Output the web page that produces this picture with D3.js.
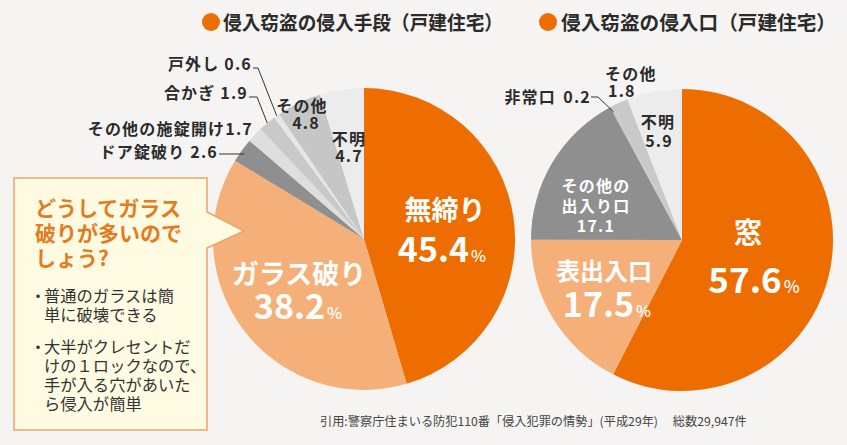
<!DOCTYPE html>
<html><head><meta charset="utf-8">
<script src="https://cdn.jsdelivr.net/npm/d3@7/dist/d3.min.js"></script>
<style>
html,body{margin:0;padding:0;background:#f5f4f2;}
svg{display:block;font-family:"Noto Sans CJK JP","Noto Sans",sans-serif;}
</style></head>
<body>
<svg id="c" width="847" height="445"></svg>
<script>
// ---- data ----
const methodCats = ["無締り","ガラス破り","ドア錠破り","その他の施錠開け","合かぎ","戸外し","その他","不明"];
const methodVals = [45.4,38.2,2.6,1.7,1.9,0.6,4.8,4.7];
const entryCats = ["窓","表出入口","その他の出入り口","非常口","その他","不明"];
const entryVals = [57.6,17.5,17.1,0.2,1.8,5.9];
const titles = ["侵入窃盗の侵入手段（戸建住宅）","侵入窃盗の侵入口（戸建住宅）"];
const calloutTitle = ["どうしてガラス","破りが多いので","しょう?"];
const calloutBullets = [["普通のガラスは簡","単に破壊できる"],["大半がクレセントだ","けの１ロックなので、","手が入る穴があいた","ら侵入が簡単"]];
const sourceText = "引用:警察庁住まいる防犯110番「侵入犯罪の情勢」(平成29年)　 総数29,947件";

// ---- styles ----
const methodColors = ["#ed6d00","#f5b07a","#8f8f8f","#dedede","#c9c9c9","#e6e6e6","#c6c6c6","#ececec"];
const entryColors = ["#ed6d00","#f5b07a","#8f8f8f","#c4c4c4","#c9c9c9","#ececec"];
const svg = d3.select("#c");
const R = 151;
const dark = "#2b2b2b";
const LF = 16;   // outer label font size
const LS = 1.2;  // outer label letter spacing

function drawPie(cx, cy, cats, vals, colors){
  const g = svg.append("g").attr("transform",`translate(${cx},${cy})`);
  const pie = d3.pie().sort(null).value(d=>d.v);
  const data = pie(cats.map((c,i)=>({c, v:vals[i], col:colors[i]})));
  const arc = d3.arc().innerRadius(0).outerRadius(R);
  g.selectAll("path").data(data).join("path").attr("d",arc).attr("fill",d=>d.data.col);
  return {g, data, cx, cy};
}
function edgePoint(p, d, r){
  const a = (d.startAngle+d.endAngle)/2;
  return [p.cx + Math.sin(a)*r, p.cy - Math.cos(a)*r];
}

// titles
const tpos = [[211,223,280],[548,561,275]];
titles.forEach((t,i)=>{
  svg.append("circle").attr("cx",tpos[i][0]).attr("cy",22).attr("r",9).attr("fill","#ed6d00");
  svg.append("text").attr("x",tpos[i][1]).attr("y",30).attr("font-size",19.5).attr("font-weight",700)
    .attr("fill",dark).attr("textLength",tpos[i][2]).attr("lengthAdjust","spacingAndGlyphs").text(t);
});

const p1 = drawPie(364,239,methodCats,methodVals,methodColors);
const p2 = drawPie(682,240,entryCats,entryVals,entryColors);

function txt(x,y,s,size,opts={}){
  const t = svg.append("text").attr("x",x).attr("y",y).attr("font-size",size)
    .attr("font-weight",opts.w||700).attr("fill",opts.fill||dark)
    .attr("text-anchor",opts.anchor||"start");
  if(opts.ls) t.attr("letter-spacing",opts.ls);
  if(opts.pct){
    t.append("tspan").text(s);
    t.append("tspan").attr("font-size",opts.pct).attr("font-weight",500).attr("dx",2).text("%");
  } else t.text(s);
  return t;
}
function lbl(x,y,s,opts={}){ return txt(x,y,s,LF,Object.assign({ls:LS},opts)); }
function leader(pts){
  svg.append("path").attr("d",d3.line()(pts)).attr("fill","none").attr("stroke","#333").attr("stroke-width",1);
}

// left pie inner labels
txt(445,220,methodCats[0],27,{fill:"#fff",anchor:"middle"});
txt(442,262,methodVals[0].toFixed(1),34,{fill:"#fff",anchor:"middle",pct:16});
txt(299,284,methodCats[1],27,{fill:"#fff",anchor:"middle"});
txt(298,319,methodVals[1].toFixed(1),34,{fill:"#fff",anchor:"middle",pct:16});

// left pie outer labels
lbl(218,158,methodCats[2]+" "+methodVals[2],{anchor:"end"});
{const e=edgePoint(p1,p1.data[2],R-3); leader([[219,154],[e[0],154]]);}
lbl(253,135,methodCats[3]+methodVals[3],{anchor:"end"});
lbl(248,99,methodCats[4]+" "+methodVals[4],{anchor:"end"});
{const e=edgePoint(p1,p1.data[4],R); leader([[249,97],[257,97],e]);}
lbl(252,70,methodCats[5]+" "+methodVals[5],{anchor:"end"});
{const e=edgePoint(p1,p1.data[5],R); leader([[253,68],[258,68],e]);}
lbl(302,112,methodCats[6],{anchor:"middle"});
lbl(306,129,String(methodVals[6]),{anchor:"middle"});
lbl(349,145,methodCats[7],{anchor:"middle"});
lbl(349,162,String(methodVals[7]),{anchor:"middle"});

// right pie inner labels
txt(748,243,entryCats[0],28,{fill:"#fff",anchor:"middle"});
txt(754,293,entryVals[0].toFixed(1),35,{fill:"#fff",anchor:"middle",pct:17});
txt(604,280,entryCats[1],24,{fill:"#fff",anchor:"middle"});
txt(607,317,entryVals[1].toFixed(1),34,{fill:"#fff",anchor:"middle",pct:16});
lbl(596,192,"その他の",{fill:"#fff",anchor:"middle"});
lbl(596,212,"出入り口",{fill:"#fff",anchor:"middle"});
lbl(596,232,String(entryVals[2]),{fill:"#fff",anchor:"middle"});

// right pie outer labels
lbl(556,103,entryCats[3],{anchor:"end"});
lbl(591,103,entryVals[3].toFixed(1),{anchor:"end"});
{const e=edgePoint(p2,p2.data[3],R-6); leader([[591,97],[598,97],e]);}
lbl(605,80,entryCats[4]);
lbl(608,97,String(entryVals[4]));
lbl(658,128,entryCats[5],{anchor:"middle"});
lbl(659,147,String(entryVals[5]),{anchor:"middle"});

// callout box
svg.append("path").attr("d","M14,178 H207 V212 L244,231 L207,248 V430 H14 Z")
  .attr("fill","#fffbe3").attr("stroke","#eda468").attr("stroke-width",1.5).attr("stroke-linejoin","miter");
calloutTitle.forEach((s,i)=>txt(35,216+i*25,s,21,{fill:"#e67a1d"}));
let y = 302;
calloutBullets.forEach((lines,bi)=>{
  lines.forEach((s,li)=>{
    if(li===0) txt(30,y,"・",16,{w:400,fill:"#333"});
    txt(44,y,s,16.3,{w:400,fill:"#333"});
    y += 18.7;
  });
  y += 14;
});

// source
txt(320,426,sourceText,12.2,{w:400,fill:"#444"});
</script>
</body></html>
